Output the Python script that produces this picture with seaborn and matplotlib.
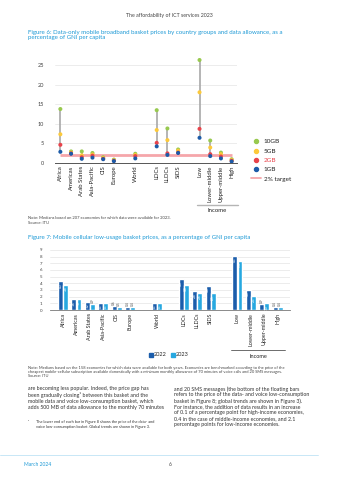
import matplotlib
matplotlib.use("Agg")
import matplotlib.pyplot as plt
from matplotlib.lines import Line2D
import seaborn as sns
import pandas as pd

# ---------------- data ----------------
groups = ["Africa", "Americas", "Arab States", "Asia-Pacific", "CIS", "Europe", "World",
          "LDCs", "LLDCs", "SIDS", "Low", "Lower-middle", "Upper-middle", "High"]
gb10 = [13.8, 2.9, 2.9, 2.5, 1.4, 0.8, 2.3, 13.5, 8.8, 3.4, 26.4, 5.7, 2.6, 0.9]
gb5 = [7.3, 2.6, 1.9, 2.1, 1.2, 0.6, 2.0, 8.4, 5.8, 3.1, 18.1, 3.9, 2.2, 0.7]
gb2 = [4.6, 2.4, 1.4, 1.8, 1.0, 0.5, 1.7, 5.1, 2.4, 2.6, 8.7, 2.2, 1.6, 0.5]
gb1 = [2.8, 2.3, 1.0, 1.3, 0.9, 0.4, 1.1, 4.2, 2.0, 2.5, 6.4, 1.7, 1.1, 0.3]
allowances = ["10GB", "5GB", "2GB", "1GB"]
target = 2

years = ["2022", "2023"]
low2022 = [4.3, 1.6, 1.2, 1.1, 0.6, 0.4, 1.1, 4.6, 2.8, 3.6, 8.1, 3.0, 0.9, 0.4]
low2023 = [3.8, 1.7, 0.9, 1.1, 0.5, 0.4, 1.1, 3.8, 2.6, 2.5, 7.4, 2.1, 1.0, 0.4]

# category order with empty spacer slots
order = groups[:6] + [" "] + ["World"] + ["  "] + groups[7:10] + ["   "] + groups[10:]

df1 = pd.DataFrame({
    "group": groups * 4,
    "allowance": sum([[a] * len(groups) for a in allowances], []),
    "value": gb10 + gb5 + gb2 + gb1,
})
df2 = pd.DataFrame({
    "group": groups * 2,
    "year": sum([[y] * len(groups) for y in years], []),
    "value": low2022 + low2023,
})

# ---------------- style ----------------
sns.set_style("white")
plt.rcParams["font.family"] = ["Lato", "DejaVu Sans"]

W, H = 339, 480
fig = plt.figure(figsize=(W / 100, H / 100), dpi=100)
fx = lambda x: x / W
fy = lambda y: 1 - y / H

BLUE_T = "#1f9ad6"
TXT = "#333333"
GRID = "#e4e4e4"

fig.text(fx(169.5), fy(16), "The affordability of ICT services 2023", ha="center", va="center",
         fontsize=3.8, color="#444444")
fig.text(fx(28), fy(35), "Figure 6: Data-only mobile broadband basket prices by country groups and data allowance, as a\npercentage of GNI per capita",
         ha="left", va="center", fontsize=4.4, color=BLUE_T, linespacing=1.1)

# ---------------- chart 1 ----------------
pal1 = {"10GB": "#98c94f", "5GB": "#fcc93a", "2GB": "#e8434b", "1GB": "#1c5ba8"}
ax1 = fig.add_axes([fx(55), fy(162.7), fx(237) - fx(55), (27 * 3.89) / H])
xs = [order.index(g) for g in groups]
ax1.vlines(xs, gb1, gb10, color="#a8a8a8", lw=1.2, zorder=2)
ax1.hlines(target, xs[0], xs[-1], color="#f5a6aa", lw=2.0, zorder=2.5)
sns.stripplot(data=df1, x="group", y="value", hue="allowance", order=order,
              hue_order=allowances, palette=pal1, jitter=False, dodge=False,
              size=2.9, linewidth=0, ax=ax1, legend=False, zorder=3)
ax1.set_xlim(-0.5, len(order) - 0.5)
ax1.set_ylim(0, 27)
ax1.set_yticks([0, 5, 10, 15, 20, 25])
ax1.yaxis.grid(True, color=GRID, lw=0.5)
ax1.set_axisbelow(True)
for s in ["left", "top", "right"]:
    ax1.spines[s].set_visible(False)
ax1.spines["bottom"].set_color("#555555")
ax1.spines["bottom"].set_linewidth(0.7)
ax1.set_xlabel("")
ax1.set_ylabel("")
ax1.tick_params(axis="y", length=0, pad=8, labelsize=4, labelcolor="#444444")
ax1.tick_params(axis="x", length=0, pad=2, labelsize=4.3, labelcolor="#222222")
for lab in ax1.get_xticklabels():
    lab.set_rotation(90)
    lab.set_va("top")
    lab.set_ha("center")

handles1 = [Line2D([], [], marker="o", ls="", color=pal1[a], markersize=2.9) for a in allowances]
handles1.append(Line2D([], [], color="#f5a6aa", lw=1.3))
leg1 = fig.legend(handles1, allowances + ["2% target"], loc="upper left",
                  bbox_to_anchor=(fx(251), fy(139)), frameon=False, fontsize=4.6,
                  handlelength=1.6, handletextpad=0.4, labelspacing=0.6, borderaxespad=0, borderpad=0)
for t in leg1.get_texts():
    t.set_color("#222222")
leg1.get_texts()[2].set_color("#e8434b")

# income bracket chart 1
fig.add_artist(Line2D([fx(197), fx(238)], [fy(205), fy(205)], color="#b5b5b5", lw=1.0))
fig.text(fx(217), fy(211), "Income", ha="center", va="center", fontsize=4.3, color="#222222")

fig.text(fx(28), fy(220.5), "Note: Medians based on 207 economies for which data were available for 2023.\nSource: ITU",
         ha="left", va="center", fontsize=3.0, color="#444444", linespacing=1.2)

# ---------------- chart 2 ----------------
fig.text(fx(28), fy(237.5), "Figure 7: Mobile cellular low-usage basket prices, as a percentage of GNI per capita",
         ha="left", va="center", fontsize=4.4, color=BLUE_T)

pal2 = {"2022": "#1b5dab", "2023": "#27a8e0"}
ax2 = fig.add_axes([fx(49.6), fy(310), fx(289.8) - fx(49.6), (9.2 * 6.67) / H])
sns.barplot(data=df2, x="group", y="value", hue="year", order=order, hue_order=years,
            palette=pal2, width=0.76, gap=0.05, saturation=1, errorbar=None,
            ax=ax2, legend=False, zorder=3)
ax2.set_xlim(-1, 16.9)
ax2.set_ylim(0, 9.2)
ax2.set_yticks(range(0, 10))
ax2.yaxis.grid(True, color=GRID, lw=0.5)
ax2.set_axisbelow(True)
for s in ["left", "top", "right"]:
    ax2.spines[s].set_visible(False)
ax2.spines["bottom"].set_color("#777777")
ax2.spines["bottom"].set_linewidth(0.6)
ax2.set_xlabel("")
ax2.set_ylabel("")
ax2.tick_params(axis="y", length=0, pad=5, labelsize=3.2, labelcolor="#444444")
ax2.tick_params(axis="x", length=0, pad=2, labelsize=3.9, labelcolor="#222222")
for lab in ax2.get_xticklabels():
    lab.set_rotation(90)
    lab.set_va("top")
    lab.set_ha("center")

for cont in ax2.containers:
    for bar in cont:
        h = bar.get_height()
        if not h == h or h == 0:
            continue
        xc = bar.get_x() + bar.get_width() / 2
        if h >= 1.0:
            ax2.annotate(f"{h:.1f}", (xc, h), xytext=(0, -1.2), textcoords="offset points",
                         rotation=90, ha="center", va="top", fontsize=2.4, color="white", zorder=4)
        else:
            ax2.annotate(f"{h:.1f}", (xc, h), xytext=(0, 0.8), textcoords="offset points",
                         rotation=90, ha="center", va="bottom", fontsize=2.4, color="#555555", zorder=4)

handles2 = [Line2D([], [], marker="s", ls="", color=pal2[y], markersize=2.4) for y in years]
fig.legend(handles2, years, loc="center", bbox_to_anchor=(fx(169), fy(355)), ncol=2,
           frameon=False, fontsize=4.0, handlelength=0.6, handletextpad=0.2, columnspacing=0.8,
           borderaxespad=0, borderpad=0)

fig.add_artist(Line2D([fx(231), fx(285)], [fy(350), fy(350)], color="#555555", lw=0.6))
fig.text(fx(258), fy(357), "Income", ha="center", va="center", fontsize=4.0, color="#222222")

fig.text(fx(28), fy(372), "Note: Medians based on the 158 economies for which data were available for both years. Economies are benchmarked according to the price of the\n"
         "cheapest mobile-cellular subscription available domestically with a minimum monthly allowance of 70 minutes of voice calls and 20 SMS messages.\nSource: ITU",
         ha="left", va="center", fontsize=2.93, color="#444444", linespacing=1.15)

# ---------------- body text ----------------
left_txt = ("are becoming less popular. Indeed, the price gap has\n"
            "been gradually closing\u00b9 between this basket and the\n"
            "mobile data and voice low-consumption basket, which\n"
            "adds 500 MB of data allowance to the monthly 70 minutes")
right_txt = ("and 20 SMS messages (the bottom of the floating bars\n"
             "refers to the price of the data- and voice low-consumption\n"
             "basket in Figure 8; global trends are shown in Figure 3).\n"
             "For instance, the addition of data results in an increase\n"
             "of 0.1 of a percentage point for high-income economies,\n"
             "0.4 in the case of middle-income economies, and 2.1\n"
             "percentage points for low-income economies.")
fig.text(fx(28), fy(386), left_txt, ha="left", va="top", fontsize=3.75, color=TXT, linespacing=1.2)
fig.text(fx(174), fy(386), right_txt, ha="left", va="top", fontsize=3.75, color=TXT, linespacing=1.2)
fig.text(fx(28), fy(422), "\u00b9", ha="left", va="center", fontsize=2.6, color=TXT)
fig.text(fx(36), fy(424.5), "The lower end of each bar in Figure 8 shows the price of the data- and\n"
         "voice low-consumption basket. Global trends are shown in Figure 3.",
         ha="left", va="center", fontsize=2.8, color=TXT, linespacing=1.3)

# footer
fig.add_artist(Line2D([fx(0), fx(318)], [fy(454.5), fy(454.5)], color="#bfe3f5", lw=0.6))
fig.text(fx(24), fy(464.5), "March 2024", ha="left", va="center", fontsize=3.6, color=BLUE_T)
fig.text(fx(170), fy(464.5), "6", ha="center", va="center", fontsize=3.6, color="#444444")

fig.savefig("out.png", dpi=100)
